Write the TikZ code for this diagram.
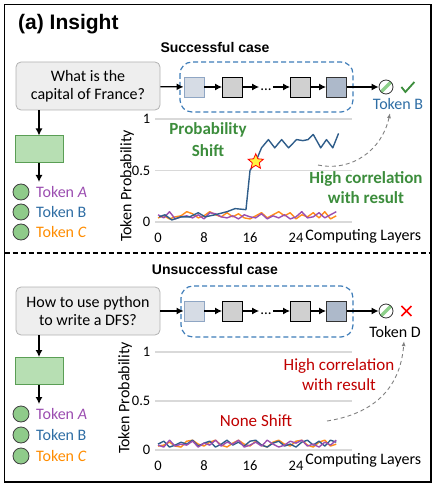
\documentclass[tikz,border=0pt]{standalone}
\usepackage{fontspec}
\setmainfont{Carlito}
\newfontfamily\headfont{Liberation Sans}
\usetikzlibrary{shapes.geometric,arrows.meta}

\definecolor{boxblue}{HTML}{3E7CB8}
\definecolor{firstfill}{HTML}{D6DCE5}
\definecolor{firstdraw}{HTML}{8FA6C4}
\definecolor{midfill}{HTML}{D0D0D0}
\definecolor{lastfill}{HTML}{ADB9CA}
\definecolor{rectgreen}{HTML}{B7DFB3}
\definecolor{rectdraw}{HTML}{5A9E55}
\definecolor{dotgreen}{HTML}{8FCB8A}
\definecolor{stripgreen}{HTML}{8DD08A}
\definecolor{tokA}{HTML}{9B4DB0}
\definecolor{tokB}{HTML}{2E6DA4}
\definecolor{tokC}{HTML}{FF8C00}
\definecolor{lineblue}{HTML}{2F5D8A}
\definecolor{lineorange}{HTML}{FF8C1A}
\definecolor{linepurple}{HTML}{9B4FB0}
\definecolor{okgreen}{HTML}{3C8D3C}
\definecolor{badred}{HTML}{C00000}

\tikzset{
  quest/.style={draw=gray!60, fill=gray!13, rounded corners=5pt, line width=0.8pt,
    minimum width=144pt, minimum height=48pt, align=center, inner sep=2pt,
    font=\fontsize{16}{18}\selectfont},
  lay/.style={minimum size=20pt, inner sep=0pt, line width=0.9pt},
  layfirst/.style={lay, draw=firstdraw, fill=firstfill},
  laymid/.style={lay, draw=black, fill=midfill},
  laylast/.style={lay, draw=black!80, fill=lastfill},
  stackbox/.style={draw=boxblue, line width=1.2pt, dash pattern=on 5pt off 3pt, rounded corners=12pt},
  outdot/.style={circle, draw=black!80, line width=0.8pt, minimum size=14pt, inner sep=0pt,
    path picture={\draw[line width=3.5pt, stripgreen] (path picture bounding box.south west) -- (path picture bounding box.north east);}},
  greenrect/.style={draw=rectdraw, fill=rectgreen, line width=1pt, minimum width=48pt, minimum height=27pt},
  tokdot/.style={circle, draw=black!75, fill=dotgreen, line width=0.8pt, minimum size=16pt, inner sep=0pt},
  toklab/.style={anchor=west, inner sep=0pt, font=\fontsize{16}{18}\selectfont},
  flow/.style={-{Latex[length=7pt, width=7pt]}, line width=1.2pt},
  grid/.style={draw=gray!30, line width=1.3pt},
  tick/.style={inner sep=0pt, font=\fontsize{14.5}{16}\selectfont},
  axlab/.style={inner sep=0pt, font=\fontsize{16}{18}\selectfont},
  note/.style={align=center, inner sep=0pt, font=\fontsize{17}{20}\selectfont},
  data/.style={line width=1.4pt, line join=round},
  hint/.style={-{Latex[length=5pt, width=4pt]}, gray, line width=0.9pt, dash pattern=on 4pt off 3pt},
}

\begin{document}
\begin{tikzpicture}[x=1pt, y=-1pt]
  \useasboundingbox (0,0) rectangle (437,486);
  % Frame and divider
  \draw[line width=1.6pt] (4.5,4.5) rectangle (431,482);
  \draw[line width=1.2pt, dash pattern=on 5pt off 3pt] (4.5,253) -- (431,253);

  \node[anchor=west, inner sep=0pt, font=\headfont\bfseries\fontsize{21}{24}\selectfont] (title) at (18,24) {(a) Insight};

  %%%%%%%% Successful case
  \node[font=\headfont\bfseries\fontsize{14}{16}\selectfont] (case1) at (215,47) {Successful case};
  \node[quest] (q1) at (88,86) {What is the\\capital of France?};
  \draw[stackbox] (180,62) rectangle (353,112);
  \node[layfirst] (l1a) at (194,87) {};
  \node[laymid]   (l1b) at (232.5,87) {};
  \node[inner sep=1pt, font=\fontsize{15}{16}\selectfont] (dots1) at (266,90) {...};
  \node[laymid]   (l1c) at (300.5,87) {};
  \node[laylast]  (l1d) at (336.5,87) {};
  \node[outdot]   (o1) at (386,87) {};
  \draw[flow] (q1) -- (l1a);
  \draw[flow] (l1a) -- (l1b);
  \draw[flow] (l1b) -- (l1b -| dots1.west);
  \draw[flow] (dots1.east |- l1c) -- (l1c);
  \draw[flow] (l1c) -- (l1d);
  \draw[flow] (l1d) -- (o1);
  \draw[okgreen, line width=1.8pt] (o1.east) ++(8,0) -- ++(4,5) -- ++(9,-10);
  \node[font=\fontsize{16}{18}\selectfont, text=tokB] (res1) at (398,104) {Token B};

  % Left column
  \node[greenrect] (g1) at (39,149.5) {};
  \coordinate (a1) at (39,182);
  \draw[flow] (g1.north |- q1.south) -- (g1.north);
  \draw[flow] (g1.south) -- (a1);
  \node[tokdot] (d1a) at (21,192) {};
  \node[tokdot] (d1b) at (21,212) {};
  \node[tokdot] (d1c) at (21,232) {};
  \node[toklab, text=tokA] (t1a) at (36,192) {Token \textit{A}};
  \node[toklab, text=tokB] (t1b) at (36,212) {Token B};
  \node[toklab, text=tokC] (t1c) at (36,232) {Token \textit{C}};

  % Chart of the successful case
  \node[axlab, rotate=90] (ylab1) at (127,186) {Token Probability};
  \begin{scope}[shift={(158,222)}, x=5.75pt, y=103pt]
    \foreach \p/\t in {0/0, 0.5/0.5, 1/1}
    {
      \draw[grid] (-0.5,\p) -- (33.7,\p);
      \node[tick, anchor=east] (ya\t) at (-1.3,\p) {\t};
    }
    \foreach \l in {0,8,16,24}
      \node[tick] (xa\l) at (\l,-0.15) {\l};
    \node[axlab, anchor=west] (xlab1) at (25.6,-0.14) {Computing Layers};
    % orange and purple stay low
    \draw[data, lineorange] (0,0.04) \foreach \v [count=\i] in {0.06,0.03,0.05,0.06,0.1,0.08,0.04,0.06,0.1,0.07,0.05,0.09,0.05,0.08,0.04,0.03,0.06,0.09,0.04,0.07,0.1,0.06,0.09,0.03,0.07,0.05,0.09,0.04,0.1,0.03,0.06} { -- (\i,\v) };
    \draw[data, linepurple] (0,0.07) \foreach \v [count=\i] in {0.04,0.1,0.03,0.05,0.06,0.04,0.07,0.03,0.09,0.08,0.05,0.04,0.06,0.03,0.07,0.05,0.04,0.08,0.03,0.06,0.04,0.07,0.03,0.05,0.1,0.04,0.05,0.09,0.04,0.07,0.1} { -- (\i,\v) };
    % blue jumps
    \draw[data, lineblue] plot coordinates {(0.2,0.05) (1.2,0.07) (2.4,0.02) (4,0.05) (5.5,0.05) (7,0.09) (8.2,0.05) (9.9,0.07) (12,0.1) (13.4,0.13) (15.3,0.12) (16,0.5) (17,0.585) (18,0.72) (19.2,0.8) (20.3,0.72) (21.5,0.8) (22.7,0.72) (24.1,0.8) (25.2,0.79) (26.1,0.8) (27,0.85) (28.3,0.72) (29.3,0.8) (30.4,0.72) (31.4,0.86)};
    \node[star, star points=5, star point ratio=2.2, draw=red, fill=yellow!75, line width=0.8pt, minimum size=16pt, inner sep=0pt] (shift1) at (17,0.585) {};
  \end{scope}
  \node[note, text=okgreen, font=\bfseries\fontsize{17}{22}\selectfont] (pshift) at (208,140) {Probability\\Shift};
  \node[note, text=okgreen, font=\bfseries\fontsize{17}{20}\selectfont] (corr1) at (366,188) {High correlation\\with result};
  \coordinate (h1) at (318,165);
  \draw[hint] (h1) .. controls (352,172) and (382,150) .. (res1.south -| 390,0);

  %%%%%%%% Unsuccessful case
  \node[font=\headfont\bfseries\fontsize{14}{16}\selectfont] (case2) at (215,269) {Unsuccessful case};
  \node[quest] (q2) at (88,311) {How to use python\\to write a DFS?};
  \draw[stackbox] (181,286) rectangle (353,337);
  \node[layfirst] (l2a) at (194,311) {};
  \node[laymid]   (l2b) at (232.5,311) {};
  \node[inner sep=1pt, font=\fontsize{15}{16}\selectfont] (dots2) at (266,314) {...};
  \node[laymid]   (l2c) at (300.5,311) {};
  \node[laylast]  (l2d) at (336.5,311) {};
  \node[outdot]   (o2) at (386,311) {};
  \draw[flow] (q2) -- (l2a);
  \draw[flow] (l2a) -- (l2b);
  \draw[flow] (l2b) -- (l2b -| dots2.west);
  \draw[flow] (dots2.east |- l2c) -- (l2c);
  \draw[flow] (l2c) -- (l2d);
  \draw[flow] (l2d) -- (o2);
  \draw[red, line width=1.6pt] (o2.east) ++(8,-5) -- ++(10,10) ++(0,-10) -- ++(-10,10);
  \node[font=\fontsize{16}{18}\selectfont] (res2) at (395,332) {Token D};

  % Left column
  \node[greenrect] (g2) at (39,371) {};
  \coordinate (a2) at (39,404);
  \draw[flow] (g2.north |- q2.south) -- (g2.north);
  \draw[flow] (g2.south) -- (a2);
  \node[tokdot] (d2a) at (21,414) {};
  \node[tokdot] (d2b) at (21,435) {};
  \node[tokdot] (d2c) at (21,456) {};
  \node[toklab, text=tokA] (t2a) at (36,414) {Token \textit{A}};
  \node[toklab, text=tokB] (t2b) at (36,435) {Token B};
  \node[toklab, text=tokC] (t2c) at (36,456) {Token \textit{C}};

  % Chart of the unsuccessful case
  \node[axlab, rotate=90] (ylab2) at (125,398) {Token Probability};
  \begin{scope}[shift={(158,450)}, x=5.75pt, y=98pt]
    \foreach \p/\t in {0/0, 0.5/0.5, 1/1}
    {
      \draw[grid] (-0.5,\p) -- (33.7,\p);
      \node[tick, anchor=east] (yb\t) at (-1.3,\p) {\t};
    }
    \foreach \l in {0,8,16,24}
      \node[tick] (xb\l) at (\l,-0.16) {\l};
    \node[axlab, anchor=west] (xlab2) at (25.6,-0.11) {Computing Layers};
    % all three stay low
    \draw[data, lineorange] (0,0.04) \foreach \v [count=\i] in {0.05,0.08,0.04,0.03,0.09,0.1,0.06,0.04,0.08,0.1,0.05,0.03,0.07,0.1,0.06,0.04,0.09,0.05,0.03,0.08,0.1,0.06,0.04,0.09,0.1,0.05,0.03,0.08,0.1,0.04,0.06} { -- (\i,\v) };
    \draw[data, lineblue] (0,0.06) \foreach \v [count=\i] in {0.09,0.03,0.05,0.08,0.06,0.1,0.04,0.07,0.09,0.03,0.06,0.1,0.05,0.08,0.04,0.09,0.1,0.05,0.03,0.07,0.09,0.04,0.06,0.03,0.08,0.1,0.05,0.09,0.04,0.1,0.08} { -- (\i,\v) };
    \draw[data, linepurple] (0,0.05) \foreach \v [count=\i] in {0.03,0.1,0.04,0.06,0.05,0.09,0.03,0.07,0.05,0.1,0.04,0.08,0.06,0.1,0.03,0.05,0.08,0.04,0.1,0.06,0.03,0.05,0.09,0.07,0.1,0.04,0.06,0.03,0.08,0.05,0.1} { -- (\i,\v) };
  \end{scope}
  \node[note, text=badred] (none2) at (256,421) {None Shift};
  \node[note, text=badred] (corr2) at (339,375) {High correlation\\with result};
  \coordinate (h2) at (327,421);
  \draw[hint] (h2) .. controls (372,414) and (400,390) .. (res2.south -| 404,0);
\end{tikzpicture}
\end{document}
